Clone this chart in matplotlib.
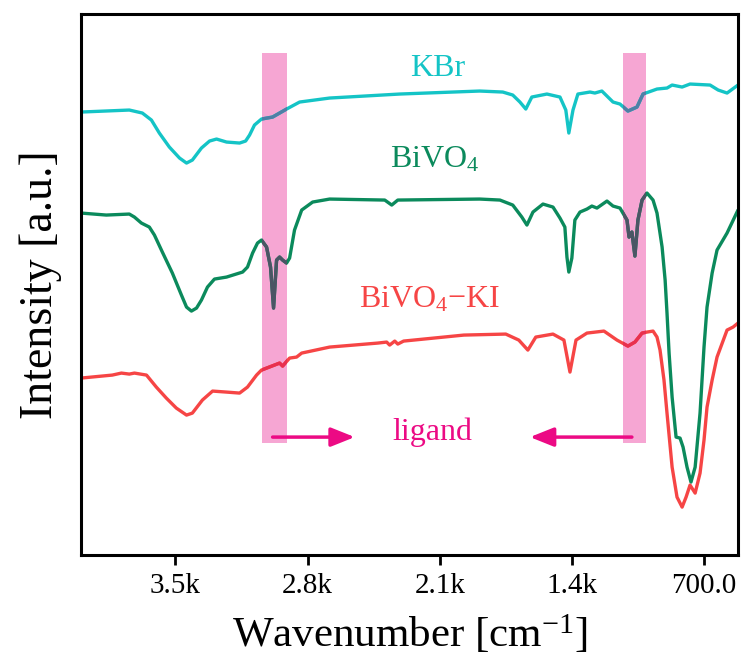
import matplotlib
matplotlib.use("Agg")
import matplotlib.pyplot as plt
from matplotlib.patches import Rectangle
import numpy as np

plt.rcParams['font.family'] = ['Liberation Serif', 'DejaVu Serif']
plt.rcParams['mathtext.fontset'] = 'custom'
plt.rcParams['mathtext.rm'] = 'Liberation Serif'
plt.rcParams['mathtext.it'] = 'Liberation Serif:italic'
plt.rcParams['mathtext.bf'] = 'Liberation Serif:bold'

# ---- data (wavenumber in cm^-1, intensity in arbitrary units) ----
kbr_wn = [4000, 3744, 3675, 3627, 3585, 3532, 3478, 3441, 3410, 3362, 3319, 3282, 3229, 3160,
          3128, 3107, 3081, 3044, 2985, 2948, 2911, 2842, 2683, 2312, 1888, 1766, 1713, 1675,
          1644, 1612, 1532, 1463, 1432, 1416, 1394, 1368, 1304, 1278, 1241, 1182, 1145, 1103,
          1055, 1023, 949, 896, 869, 816, 774, 668, 625, 578, 520]
kbr_int = [443, 445, 442, 435, 422, 408, 397, 392, 395, 407, 414, 416, 413, 412,
           414, 420, 430, 436, 438, 442, 446, 453, 457, 461, 464, 463, 460, 453,
           446, 458, 461, 458, 445, 422, 445, 461, 463, 462, 464, 453, 451, 444,
           448, 461, 466, 467, 470, 468, 471, 470, 465, 462, 470]

bivo4_wn = [4000, 3866, 3744, 3717, 3680, 3638, 3611, 3569, 3516, 3468, 3441, 3415, 3388, 3362,
            3330, 3293, 3229, 3144, 3118, 3091, 3065, 3044, 3017, 2996, 2980, 2964, 2948, 2932,
            2911, 2895, 2869, 2831, 2773, 2683, 2391, 2354, 2322, 1888, 1781, 1713, 1665, 1638,
            1606, 1553, 1500, 1463, 1437, 1426, 1416, 1400, 1384, 1357, 1320, 1294, 1267, 1214,
            1182, 1145, 1108, 1097, 1082, 1066, 1050, 1028, 1002, 970, 949, 922, 906, 896, 885,
            869, 848, 827, 811, 790, 769, 747, 721, 700, 684, 657, 631, 578, 520]
bivo4_int = [342, 340, 341, 338, 332, 328, 320, 303, 282, 260, 248, 244, 247, 255,
             268, 276, 278, 283, 288, 302, 312, 315, 308, 288, 247, 295, 298, 295,
             292, 297, 325, 345, 353, 356, 355, 350, 355, 356, 355, 350, 338, 330,
             343, 351, 348, 337, 328, 298, 283, 297, 335, 343, 346, 349, 347, 354,
             349, 347, 335, 318, 323, 299, 335, 355, 362, 355, 342, 308, 275, 242, 202,
             158, 118, 117, 108, 88, 73, 88, 142, 208, 248, 282, 305, 322, 345]

ki_wn = [4000, 3834, 3786, 3744, 3717, 3653, 3601, 3548, 3495, 3441, 3410, 3357, 3303, 3229,
         3160, 3118, 3070, 3044, 2948, 2932, 2895, 2858, 2831, 2683, 2428, 2381, 2365, 2338,
         2322, 2291, 1972, 1750, 1681, 1633, 1591, 1500, 1442, 1410, 1378, 1320, 1230, 1161,
         1103, 1066, 1028, 1002, 970, 949, 933, 912, 896, 869, 843, 816, 795, 774, 747, 721,
         700, 684, 657, 631, 578, 546, 520]
ki_int = [177, 180, 182, 181, 182, 180, 168, 157, 147, 140, 142, 155, 164, 163,
          162, 168, 180, 185, 192, 189, 197, 198, 202, 208, 212, 213, 210, 214,
          211, 214, 220, 221, 215, 205, 218, 221, 215, 183, 215, 222, 224, 215,
          209, 213, 222, 223, 224, 218, 205, 175, 142, 88, 58, 48, 58, 70, 62, 82,
          115, 148, 175, 198, 225, 228, 232]

band_ranges = [(2910, 3040), (1005, 1127)]
band_low, band_high = 112, 502
arrow_y = 118
arrow_right = (2985, 2550)
arrow_left = (1082, 1622)

tick_pos = [3500, 2800, 2100, 1400, 700]
tick_lab = ['3.5k', '2.8k', '2.1k', '1.4k', '700.0']

c_kbr, c_bivo, c_ki = '#14c4c6', '#0b8a5c', '#f64545'
c_kbr_band, c_bivo_band, c_ki_band = '#4f7fa6', '#4b5565', '#e8304f'
c_band = '#f6a6d3'
c_ligand = '#ec0a84'

fig = plt.figure(figsize=(7.45, 6.68), dpi=100)
ax = fig.add_axes([0.1087, 0.169, 0.8819, 0.810])

for lo, hi in band_ranges:
    ax.add_patch(Rectangle((lo, band_low), hi - lo, band_high - band_low,
                           facecolor=c_band, edgecolor='none', zorder=1))

series = [(kbr_wn, kbr_int, c_kbr, c_kbr_band),
          (bivo4_wn, bivo4_int, c_bivo, c_bivo_band),
          (ki_wn, ki_int, c_ki, c_ki_band)]
for wn, it, col, bcol in series:
    ax.plot(wn, it, color=col, lw=2.4, solid_joinstyle='round', solid_capstyle='round', zorder=2)
    for lo, hi in band_ranges:
        ln, = ax.plot(wn, it, color=bcol, lw=2.4, solid_joinstyle='round', zorder=3)
        clip = Rectangle((lo, band_low), hi - lo, band_high - band_low, transform=ax.transData)
        ln.set_clip_path(clip)

astyle = '-|>,head_length=0.8,head_width=0.32'
ax.annotate('', xy=(arrow_right[1], arrow_y), xytext=(arrow_right[0], arrow_y),
            arrowprops=dict(arrowstyle=astyle, color=c_ligand, lw=2.5, mutation_scale=18,
                            shrinkA=0, shrinkB=0), zorder=4)
ax.annotate('', xy=(arrow_left[1], arrow_y), xytext=(arrow_left[0], arrow_y),
            arrowprops=dict(arrowstyle=astyle, color=c_ligand, lw=2.5, mutation_scale=18,
                            shrinkA=0, shrinkB=0), zorder=4)

ax.text(2137, 123, 'ligand', color=c_ligand, fontsize=23, ha='center', va='center')
ax.text(2110, 487, 'KBr', color=c_kbr, fontsize=23, ha='center', va='center')
ax.text(2126, 395, 'BiVO$_4$', color=c_bivo, fontsize=23, ha='center', va='center')
ax.text(2153, 255, 'BiVO$_4$\u2212KI', color=c_ki, fontsize=23, ha='center', va='center')

ax.set_xlim(4000, 520)
ax.set_ylim(0, 541)
ax.set_xticks(tick_pos)
ax.set_xticklabels(tick_lab)
ax.set_yticks([])
ax.tick_params(axis='x', direction='out', length=7, width=2, labelsize=21, pad=6)
for s in ax.spines.values():
    s.set_linewidth(2.2)
ax.set_xlabel('Wavenumber [cm$^{\u22121}$]', fontsize=31, labelpad=10)
ax.set_ylabel('Intensity [a.u.]', fontsize=33, labelpad=14)

fig.savefig('out.png', dpi=100)
